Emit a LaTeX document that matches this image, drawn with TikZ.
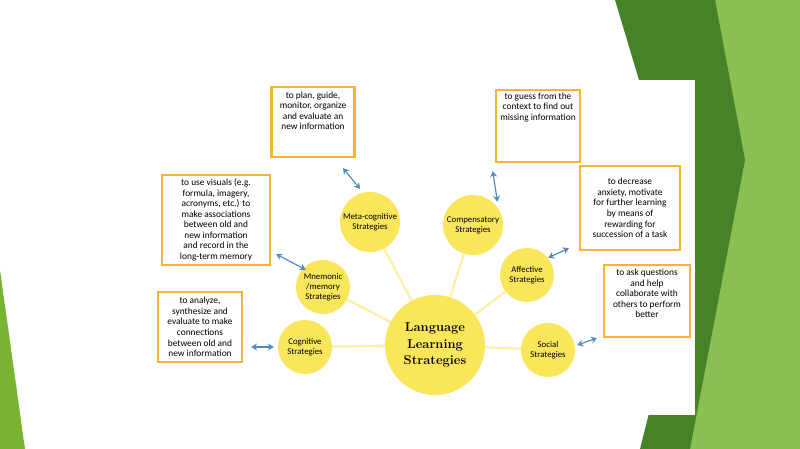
\documentclass[tikz,border=0pt]{standalone}
\usepackage{fontspec}
\setsansfont{Carlito}
\usetikzlibrary{positioning,calc,arrows.meta}
\definecolor{leafgreen}{RGB}{120,180,50}
\definecolor{darkgreen}{RGB}{70,130,40}
\definecolor{sunyellow}{RGB}{250,230,90}
\definecolor{paleyellow}{RGB}{252,240,170}
\definecolor{boxorange}{RGB}{245,180,50}
\definecolor{linkblue}{RGB}{80,140,190}
\pgfdeclarelayer{slide}
\pgfdeclarelayer{spokes}
\pgfsetlayers{slide,spokes,main}

\begin{document}
\begin{tikzpicture}[
  x=0.03cm, y=-0.03cm,
  strat/.style={circle, fill=sunyellow, font=\sffamily\fontsize{7.5}{8.5}\selectfont, align=center, inner sep=0pt},
  hub/.style={circle, fill=sunyellow, minimum size=100*0.03cm, font=\bfseries\fontsize{11}{14}\selectfont, align=center, inner sep=0pt},
  info/.style={draw=boxorange, line width=2pt, fill=white, font=\sffamily\fontsize{8}{9}\selectfont, align=center, inner sep=2pt},
  spoke/.style={paleyellow, line width=2pt},
  link/.style={{Stealth[length=5pt,width=6pt]}-{Stealth[length=5pt,width=6pt]}, linkblue, line width=1pt}
]
\useasboundingbox (0,0) rectangle (800,449);

% slide background
\begin{pgfonlayer}{slide}
\fill[leafgreen!85] (715,0) -- (800,0) -- (800,449) -- (680,449) -- cycle;
\fill[darkgreen] (615,0) -- (715,0) -- (745,160) -- (690,449) -- (640,449) -- (690,250) -- cycle;
\fill[leafgreen] (0,270) -- (25,449) -- (0,449) -- cycle;
\fill[white] (150,80) rectangle (695,415);
\end{pgfonlayer}

% central node
\node[hub] (lls) at (435,345) {Language\\Learning\\Strategies};

% strategies
\node[strat, minimum size=60*0.03cm] (meta) at (370,222) {Meta-cognitive\\Strategies};
\node[strat, minimum size=60*0.03cm] (comp) at (473,225) {Compensatory\\Strategies};
\node[strat, minimum size=54*0.03cm] (mnem) at (323,287) {Mnemonic\\/memory\\Strategies};
\node[strat, minimum size=54*0.03cm] (aff) at (527,275) {Affective\\Strategies};
\node[strat, minimum size=54*0.03cm] (cog) at (305,347) {Cognitive\\Strategies};
\node[strat, minimum size=54*0.03cm] (soc) at (548,350) {Social\\Strategies};

% spokes
\begin{pgfonlayer}{spokes}
\foreach \s in {meta,comp,mnem,aff,cog,soc}
  \draw[spoke] (lls) -- (\s);
\end{pgfonlayer}

% descriptions
\node[info, minimum width=83*0.03cm, minimum height=70*0.03cm] (plan) at (313,122) {to plan, guide,\\monitor, organize\\and evaluate an\\new information\\[10pt]};
\node[info, minimum width=108*0.03cm, minimum height=90*0.03cm] (visual) at (216,220) {to use visuals (e.g.\\formula, imagery,\\acronyms, etc.) to\\make associations\\between old and\\new information\\and record in the\\long-term memory};
\node[info, minimum width=84*0.03cm, minimum height=70*0.03cm] (anal) at (200,327) {to analyze,\\synthesize and\\evaluate to make\\connections\\between old and\\new information};
\node[info, minimum width=84*0.03cm, minimum height=72*0.03cm] (guess) at (538,126) {to guess from the\\context to find out\\missing information\\[24pt]};
\node[info, minimum width=100*0.03cm, minimum height=84*0.03cm] (anx) at (630,208) {to decrease\\anxiety, motivate\\for further learning\\by means of\\rewarding for\\succession of a task};
\node[info, minimum width=86*0.03cm, minimum height=72*0.03cm] (ask) at (647,301) {to ask questions\\and help\\collaborate with\\others to perform\\better\\[4pt]};

% links
\draw[link] ($(plan.south)+(30,10)$) -- ($(meta.north)+(-10,-3)$);
\draw[link] ($(visual.south east)+(5,-12)$) -- ($(mnem.north west)+(2,2)$);
\draw[link] ($(anal.east)+(8,20)$) -- ($(cog.west)+(-4,0)$);
\draw[link] ($(guess.south west)+(-2,8)$) -- ($(comp.north east)+(3,-2)$);
\draw[link] ($(anx.south west)+(-10,-3)$) -- ($(aff.north east)+(2,2)$);
\draw[link] ($(ask.south west)+(-6,0)$) -- ($(soc.east)+(2,-5)$);
\end{tikzpicture}
\end{document}
